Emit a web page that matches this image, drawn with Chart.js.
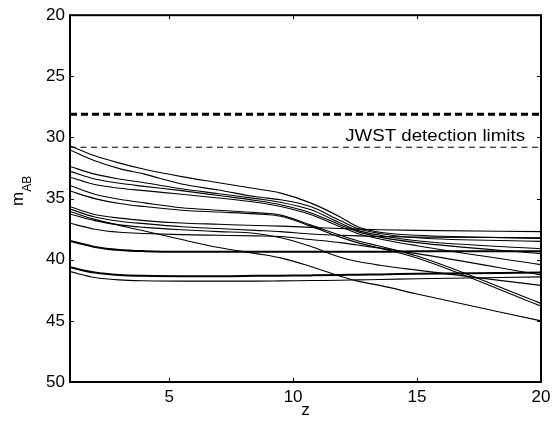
<!DOCTYPE html>
<html>
<head>
<meta charset="utf-8">
<script src="https://cdn.jsdelivr.net/npm/chart.js@4.4.1/dist/chart.umd.min.js"></script>
<style>
  html, body { margin: 0; padding: 0; background: #fff; }
  canvas { display: block; }
</style>
</head>
<body>
<canvas id="mag" width="559" height="424"></canvas>
<script>
(() => {
    'use strict';

    // redshift samples shared by every track
    const zSamples = [1, 2, 3, 4, 5.5, 7, 8.5, 9.5, 10.7, 11.9, 12.6, 13.5, 15, 20];

    // apparent AB magnitude of each track at zSamples
    const track01 = [30.67, 31.5, 32.1, 32.6, 33.2, 33.7, 34.2, 34.55, 35.35, 36.5, 37.3, 37.75, 38.0, 38.25];
    const track02 = [31.02, 31.9, 32.55, 33.0, 33.8, 34.3, 34.85, 35.1, 35.65, 36.8, 37.45, 37.85, 38.2, 38.5];
    const track03 = [32.37, 33.0, 33.4, 33.7, 34.2, 34.6, 35.0, 35.3, 35.9, 37.0, 37.6, 38.0, 38.45, 39.1];
    const track04 = [32.77, 33.4, 33.75, 34.0, 34.35, 34.75, 35.15, 35.5, 36.15, 37.15, 37.7, 38.15, 38.6, 39.5];
    const track05 = [33.25, 33.85, 34.15, 34.35, 34.65, 34.95, 35.3, 35.65, 36.3, 37.3, 37.85, 38.3, 38.85, 40.4];
    const track06 = [33.92, 34.65, 35.05, 35.35, 35.75, 35.95, 36.15, 36.35, 37.15, 38.0, 38.45, 38.9, 39.7, 43.57];
    const track07 = [34.38, 35.0, 35.4, 35.65, 35.95, 36.1, 36.25, 36.45, 37.25, 38.15, 38.6, 39.05, 39.85, 43.79];
    const track08 = [35.67, 36.3, 36.6, 36.8, 37.0, 37.1, 37.2, 37.25, 37.35, 37.45, 37.5, 37.55, 37.6, 37.7];
    const track09 = [35.86, 36.5, 36.85, 37.05, 37.3, 37.45, 37.6, 37.7, 37.9, 38.0, 38.05, 38.1, 38.15, 38.2];
    const track10 = [36.05, 36.7, 37.2, 37.65, 38.35, 39.0, 39.5, 39.85, 40.55, 41.35, 41.75, 42.1, 42.8, 45.0];
    const track11 = [36.26, 36.8, 37.15, 37.35, 37.55, 37.7, 37.85, 38.2, 38.9, 39.8, 40.15, 40.45, 40.85, 42.1];
    const track12 = [37.02, 37.5, 37.75, 37.85, 37.95, 38.0, 38.05, 38.1, 38.35, 38.6, 38.8, 39.05, 39.5, 41.24];
    const track13 = [38.47, 38.95, 39.2, 39.3, 39.35, 39.35, 39.35, 39.35, 39.35, 39.35, 39.35, 39.35, 39.3, 39.3];
    const track14 = [40.62, 41.05, 41.25, 41.32, 41.35, 41.35, 41.32, 41.3, 41.28, 41.25, 41.22, 41.2, 41.15, 41.05];
    const track15 = [40.97, 41.45, 41.65, 41.72, 41.75, 41.75, 41.75, 41.73, 41.7, 41.68, 41.65, 41.62, 41.55, 41.4];

    const tracks = [track01, track02, track03, track04, track05, track06, track07, track08,
                    track09, track10, track11, track12, track13, track14, track15];
    const heavyTracks = [track13, track14];

    // JWST limits (deep and shallow)
    const limitDeep = 28.1;
    const limitShallow = 30.8;

    const zTicks = [5, 10, 15, 20];
    const magTicks = [20, 25, 30, 35, 40, 45, 50];

    const FONT = '"Liberation Sans", Arial, Helvetica, sans-serif';

    const toPoints = (zs, ms) => zs.map((z, i) => ({ x: z, y: ms[i] }));

    const datasets = tracks.map((track) => ({
        data: toPoints(zSamples, track),
        borderColor: '#000',
        borderWidth: heavyTracks.includes(track) ? 2 : 1.1,
        cubicInterpolationMode: 'monotone',
        pointRadius: 0,
        fill: false
    }));

    datasets.push({
        data: toPoints([1, 20], [limitDeep, limitDeep]),
        borderColor: '#000',
        borderWidth: 3,
        borderDash: [7, 4],
        pointRadius: 0
    });
    datasets.push({
        data: toPoints([1, 20], [limitShallow, limitShallow]),
        borderColor: '#000',
        borderWidth: 1.2,
        borderDash: [6, 4.5],
        pointRadius: 0
    });

    // box, inward ticks and the text labels
    const framePlugin = {
        id: 'frame',
        afterDatasetsDraw(chart) {
            const ctx = chart.ctx;
            const a = chart.chartArea;
            const sx = chart.scales.x;
            const sy = chart.scales.y;
            const seg = (x1, y1, x2, y2) => {
                ctx.beginPath();
                ctx.moveTo(x1, y1);
                ctx.lineTo(x2, y2);
                ctx.stroke();
            };

            ctx.save();
            ctx.strokeStyle = '#000';
            ctx.lineWidth = 1;
            zTicks.forEach((v) => {
                const px = Math.round(sx.getPixelForValue(v)) + 0.5;
                seg(px, a.bottom, px, a.bottom - 4);
                seg(px, a.top, px, a.top + 4);
            });
            magTicks.forEach((v) => {
                const py = Math.round(sy.getPixelForValue(v)) + 0.5;
                seg(a.left, py, a.left + 4, py);
                seg(a.right, py, a.right - 4, py);
            });

            ctx.lineWidth = 2;
            ctx.strokeRect(a.left, a.top, a.right - a.left, a.bottom - a.top);

            ctx.fillStyle = '#000';
            ctx.font = '17px ' + FONT;
            ctx.textBaseline = 'alphabetic';

            // label for the two limit lines, a little wide like the original figure
            ctx.save();
            ctx.translate(a.right - 16, sy.getPixelForValue(30.25));
            ctx.scale(1.1, 1);
            ctx.textAlign = 'right';
            ctx.fillText('JWST detection limits', 0, 0);
            ctx.restore();

            ctx.textAlign = 'center';
            ctx.fillText('z', (a.left + a.right) / 2, 415);

            // m_AB, rotated, with subscript
            ctx.translate(23, 206);
            ctx.rotate(-Math.PI / 2);
            ctx.textAlign = 'left';
            ctx.font = '17px ' + FONT;
            ctx.fillText('m', 0, 0);
            const mw = ctx.measureText('m').width;
            ctx.font = '12px ' + FONT;
            ctx.fillText('AB', mw, 8);
            ctx.restore();
        }
    };

    new Chart(document.getElementById('mag').getContext('2d'), {
        type: 'line',
        data: { datasets: datasets },
        options: {
            responsive: false,
            animation: false,
            events: [],
            layout: { padding: { top: 10, right: 18, left: 0, bottom: 0 } },
            plugins: {
                legend: { display: false },
                tooltip: { enabled: false }
            },
            scales: {
                x: {
                    type: 'linear',
                    min: 1,
                    max: 20,
                    grid: { display: false, drawTicks: false },
                    border: { display: false },
                    ticks: {
                        color: '#000',
                        font: { family: FONT, size: 17 },
                        padding: 5,
                        autoSkip: false,
                        maxRotation: 0
                    },
                    afterBuildTicks: (scale) => {
                        scale.ticks = zTicks.map((v) => ({ value: v }));
                    },
                    afterFit: (scale) => {
                        scale.height = 42;
                    }
                },
                y: {
                    type: 'linear',
                    reverse: true,
                    min: 20,
                    max: 50,
                    grid: { display: false, drawTicks: false },
                    border: { display: false },
                    ticks: {
                        color: '#000',
                        font: { family: FONT, size: 17 },
                        padding: 5,
                        autoSkip: false
                    },
                    afterBuildTicks: (scale) => {
                        scale.ticks = magTicks.map((v) => ({ value: v }));
                    },
                    afterFit: (scale) => {
                        scale.width = 70;
                    }
                }
            }
        },
        plugins: [framePlugin]
    });
})();
</script>
</body>
</html>
